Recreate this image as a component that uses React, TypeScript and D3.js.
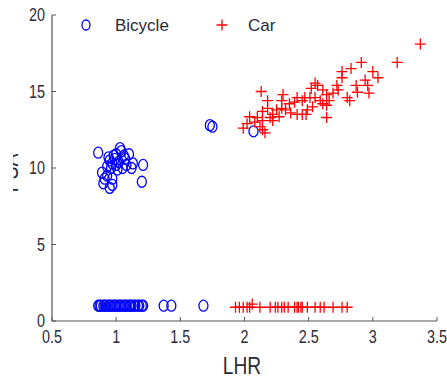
import * as d3 from "d3";

const xTicks = [0.5, 1, 1.5, 2, 2.5, 3, 3.5];
const yTicks = [0, 5, 10, 15, 20];

const bicycleX = [
  0.86, 1.03, 1.04, 1.1, 1.21, 1.2, 0.95, 0.97, 0.99, 1.0, 1.02, 1.05, 1.07, 1.08, 0.93, 0.96, 1.01,
  1.12, 1.13, 0.98, 1.06, 1.0, 0.94, 0.89, 0.91, 0.9, 0.93, 0.95, 0.97, 0.97, 1.73, 1.75, 2.07,
  0.86, 0.87, 0.88, 0.9, 0.91, 0.92, 0.94, 0.95, 0.96, 0.98, 0.99, 1.0, 1.02, 1.03, 1.04, 1.06, 1.07,
  1.08, 1.1, 1.11, 1.12, 1.14, 1.15, 1.17, 1.18, 1.2, 1.21, 1.37, 1.43, 1.68,
];
const bicycleY = [
  11.0, 11.3, 11.1, 10.9, 10.2, 9.1, 10.5, 10.3, 10.6, 10.2, 10.4, 10.0, 10.6, 10.2, 10.1, 10.0, 9.9,
  10.0, 10.3, 10.8, 10.8, 10.9, 10.7, 9.7, 9.3, 9.0, 9.5, 8.7, 8.9, 9.3, 12.8, 12.7, 12.4,
  1.0, 1.0, 1.0, 1.0, 1.0, 1.0, 1.0, 1.0, 1.0, 1.0, 1.0, 1.0, 1.0, 1.0, 1.0, 1.0, 1.0,
  1.0, 1.0, 1.0, 1.0, 1.0, 1.0, 1.0, 1.0, 1.0, 1.0, 1.0, 1.0, 1.0,
];

const carX = [
  3.37, 3.19, 2.91, 3.0, 3.04, 2.76, 2.83, 2.76, 2.94, 2.96, 2.87, 2.88, 2.97, 2.8, 2.82, 2.72, 2.73,
  2.69, 2.55, 2.57, 2.52, 2.61, 2.64, 2.66, 2.61, 2.59, 2.55, 2.51, 2.47, 2.45, 2.41, 2.39, 2.35,
  2.32, 2.36, 2.41, 2.45, 2.48, 2.49, 2.53, 2.64, 2.64, 2.3, 2.29, 2.29, 2.25, 2.22, 2.27, 2.2, 2.18,
  2.14, 2.18, 2.13, 2.14, 2.1, 2.04, 2.02, 1.99, 2.08, 2.14, 2.16, 2.12, 2.22,
  1.93, 1.96, 1.99, 2.02, 2.04, 2.06, 2.12, 2.2, 2.24, 2.26, 2.29, 2.31, 2.34, 2.39, 2.41, 2.42,
  2.44, 2.45, 2.49, 2.55, 2.59, 2.62, 2.69, 2.76, 2.8,
];
const carY = [
  18.1, 16.9, 16.9, 16.3, 15.9, 16.3, 16.5, 15.9, 15.75, 15.4, 15.4, 14.95, 14.9, 14.6, 14.4, 15.4, 15.1,
  14.9, 15.55, 15.4, 15.2, 15.1, 14.8, 14.4, 14.2, 14.4, 14.6, 14.6, 14.6, 14.4, 14.6, 14.3, 14.2,
  13.8, 13.6, 13.5, 13.5, 13.5, 13.8, 14.0, 13.3, 14.1, 14.8, 14.4, 13.9, 13.8, 13.5, 13.35, 13.3, 13.9,
  13.7, 14.4, 15.0, 13.1, 13.3, 13.35, 12.9, 12.6, 13.0, 12.5, 12.3, 12.7, 13.1,
  0.9, 0.9, 0.9, 0.9, 0.9, 1.1, 0.9, 0.9, 0.9, 0.9, 0.9, 0.9, 0.9, 0.9, 0.9, 0.9,
  0.9, 0.9, 0.9, 0.9, 0.9, 0.9, 0.9, 0.9, 0.9,
];

const W = 447;
const H = 378;
const left = 52;
const right = 437;
const top = 15;
const bottom = 321;

const font = "'Liberation Sans', Arial, sans-serif";
const textColor = "#2b2b38";
const narrow = 0.8;

const plusPath = (s: number) => `M${-s},0H${s}M0,${-s}V${s}`;

export default function App() {
  const x = d3.scaleLinear().domain([0.5, 3.5]).range([left, right]);
  const y = d3.scaleLinear().domain([0, 20]).range([bottom, top]);

  return (
    <svg
      width={W}
      height={H}
      style={{ position: "absolute", left: 0, top: 0, background: "#fff" }}
    >
      <defs>
        <clipPath id="ylab">
          <rect x={13} y={0} width={20} height={H} />
        </clipPath>
      </defs>

      {/* axes */}
      <line x1={left} x2={left} y1={top} y2={bottom} stroke="#555" strokeWidth={1.2} />
      <line x1={left} x2={right} y1={bottom} y2={bottom} stroke="#555" strokeWidth={1.2} />
      {xTicks.map((t) => (
        <g key={"x" + t}>
          <line x1={x(t)} x2={x(t)} y1={bottom} y2={bottom - 4} stroke="#555" />
          <text
            transform={`translate(${x(t)},343) scale(${narrow},1)`}
            textAnchor="middle"
            fontFamily={font}
            fontSize={18}
            fill={textColor}
          >
            {t}
          </text>
        </g>
      ))}
      {yTicks.map((t) => (
        <g key={"y" + t}>
          <line x1={left} x2={left + 4} y1={y(t)} y2={y(t)} stroke="#555" />
          <text
            transform={`translate(45,${y(t)}) scale(${narrow},1)`}
            dy="0.35em"
            textAnchor="end"
            fontFamily={font}
            fontSize={18}
            fill={textColor}
          >
            {t}
          </text>
        </g>
      ))}
      <text
        transform={`translate(242,374) scale(${narrow},1)`}
        textAnchor="middle"
        fontFamily={font}
        fontSize={24}
        fill={textColor}
      >
        LHR
      </text>
      <g clipPath="url(#ylab)">
        <text
          transform={`translate(18,173) rotate(-90) scale(${narrow},1)`}
          textAnchor="middle"
          fontFamily={font}
          fontSize={24}
          fill={textColor}
        >
          PSA
        </text>
      </g>

      {/* bicycle */}
      {bicycleX.map((v, i) => (
        <ellipse
          key={"b" + i}
          cx={x(v)}
          cy={y(bicycleY[i])}
          rx={4.5}
          ry={5.5}
          fill="none"
          stroke="#0000ff"
          strokeWidth={1.3}
        />
      ))}

      {/* car */}
      {carX.map((v, i) => (
        <path
          key={"c" + i}
          transform={`translate(${x(v)},${y(carY[i])})`}
          d={plusPath(5.5)}
          stroke="#ff0000"
          strokeWidth={1.3}
          fill="none"
        />
      ))}

      {/* legend */}
      <ellipse cx={86} cy={25} rx={4} ry={5} fill="none" stroke="#0000ff" strokeWidth={1.3} />
      <text x={115} y={31} fontFamily={font} fontSize={17} fill={textColor}>
        Bicycle
      </text>
      <path transform="translate(222,25)" d={plusPath(5.5)} stroke="#ff0000" strokeWidth={1.3} />
      <text x={248} y={31} fontFamily={font} fontSize={17} fill={textColor}>
        Car
      </text>
    </svg>
  );
}
